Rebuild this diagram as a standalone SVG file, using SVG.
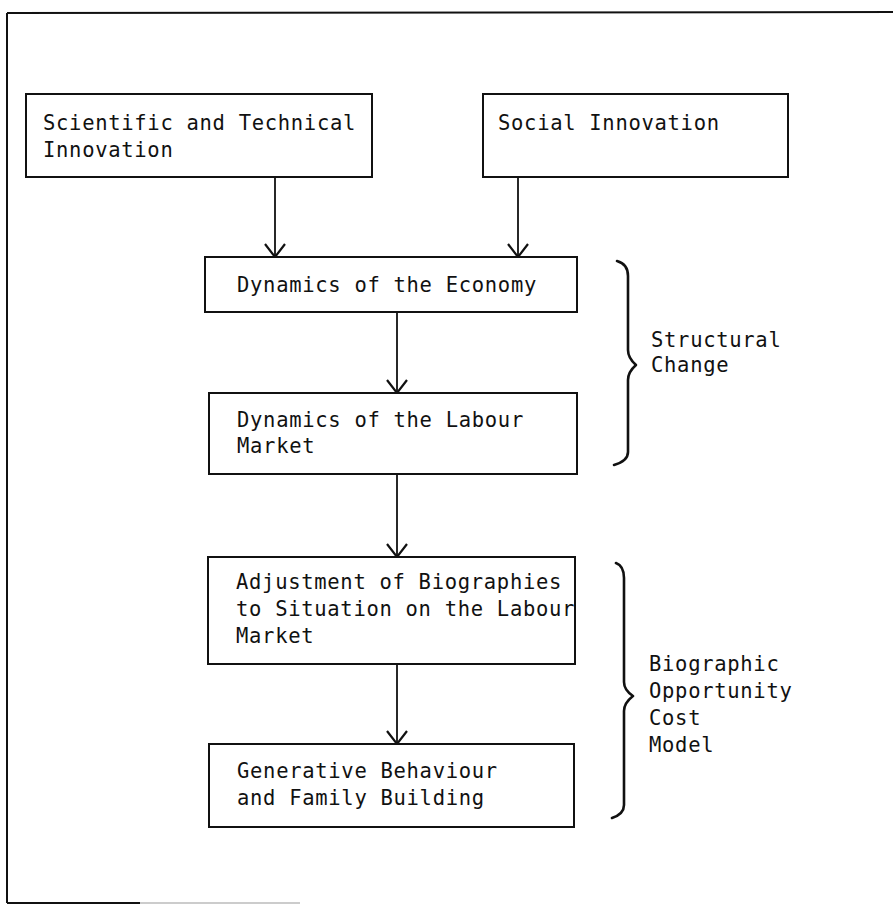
<svg xmlns="http://www.w3.org/2000/svg" width="893" height="905" viewBox="0 0 893 905">
  <style>
    .box { fill: #ffffff; stroke: #111111; stroke-width: 2; }
    .lbl { font-family: "DejaVu Sans Mono", "Liberation Mono", monospace; font-size: 20.5px; letter-spacing: 0.7px; fill: #111111; }
    .conn { stroke: #111111; stroke-width: 1.8; fill: none; }
    .brace { stroke: #111111; stroke-width: 2.6; fill: none; stroke-linejoin: round; stroke-linecap: round; }
    .frame { stroke: #111111; stroke-width: 2; fill: none; }
  </style>
  <defs>
    <marker id="chevron" viewBox="-15 -12 17 24" refX="0" refY="0" markerWidth="17" markerHeight="24" markerUnits="userSpaceOnUse" orient="auto">
      <path d="M-13,-10 L0,0 L-13,10" fill="none" stroke="#111111" stroke-width="2.2"/>
    </marker>
  </defs>
  <rect width="893" height="905" fill="#ffffff"/>

  <!-- page frame -->
  <g id="frame">
    <path class="frame" d="M7,13 L893,12"/>
    <path class="frame" d="M7,13 L7,903"/>
    <path class="frame" d="M7,903 L140,903"/>
    <path d="M140,903 L300,903" stroke="#bbbbbb" stroke-width="1.5" fill="none"/>
  </g>

  <!-- connectors -->
  <g id="connectors">
    <line class="conn" x1="275" y1="177" x2="275" y2="257" marker-end="url(#chevron)"/>
    <line class="conn" x1="518" y1="177" x2="518" y2="257" marker-end="url(#chevron)"/>
    <line class="conn" x1="397" y1="312" x2="397" y2="393" marker-end="url(#chevron)"/>
    <line class="conn" x1="397" y1="474" x2="397" y2="557" marker-end="url(#chevron)"/>
    <line class="conn" x1="397" y1="664" x2="397" y2="744" marker-end="url(#chevron)"/>
  </g>

  <g id="sci-tech">
    <rect class="box" x="26" y="94" width="346" height="83"/>
    <text class="lbl" x="43" y="130">Scientific and Technical</text>
    <text class="lbl" x="43" y="157">Innovation</text>
  </g>

  <g id="social">
    <rect class="box" x="483" y="94" width="305" height="83"/>
    <text class="lbl" x="498" y="130">Social Innovation</text>
  </g>

  <g id="economy">
    <rect class="box" x="205" y="257" width="372" height="55"/>
    <text class="lbl" x="237" y="292">Dynamics of the Economy</text>
  </g>

  <g id="labour">
    <rect class="box" x="209" y="393" width="368" height="81"/>
    <text class="lbl" x="237" y="427">Dynamics of the Labour</text>
    <text class="lbl" x="237" y="453">Market</text>
  </g>

  <g id="adjustment">
    <rect class="box" x="208" y="557" width="367" height="107"/>
    <text class="lbl" x="236" y="589">Adjustment of Biographies</text>
    <text class="lbl" x="236" y="616">to Situation on the Labour</text>
    <text class="lbl" x="236" y="643">Market</text>
  </g>

  <g id="generative">
    <rect class="box" x="209" y="744" width="365" height="83"/>
    <text class="lbl" x="237" y="778">Generative Behaviour</text>
    <text class="lbl" x="237" y="805">and Family Building</text>
  </g>

  <g id="structural-change">
    <path class="brace" d="M617,261 Q628,264 628,276 L628,350 Q628,358 636,365 Q628,372 628,380 L628,452 Q628,461 614,465"/>
    <text class="lbl" x="651" y="347">Structural</text>
    <text class="lbl" x="651" y="372">Change</text>
  </g>

  <g id="opportunity-cost">
    <path class="brace" d="M616,563 Q624,566 624,578 L624,682 Q624,690 633,696 Q624,703 624,711 L624,805 Q624,814 612,818"/>
    <text class="lbl" x="649" y="671">Biographic</text>
    <text class="lbl" x="649" y="698">Opportunity</text>
    <text class="lbl" x="649" y="725">Cost</text>
    <text class="lbl" x="649" y="752">Model</text>
  </g>
</svg>
